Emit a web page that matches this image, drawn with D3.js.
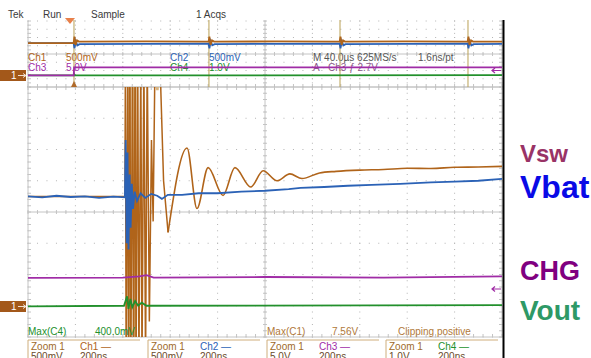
<!DOCTYPE html>
<html>
<head>
<meta charset="utf-8">
<script src="https://cdn.jsdelivr.net/npm/d3@7"></script>
<style>
html, body { margin: 0; padding: 0; background: #fff; }
svg { display: block; font-family: "Liberation Sans", Arial, sans-serif; }
</style>
</head>
<body>
<svg id="scope" width="591" height="358"></svg>
<script>
// ---- values ----
// overview strip: time in us (40 us/div), level in divisions from centre
const ovSpikes = [38.8, 152.7, 263.3, 371.3];
const ovCh1 = [[0,1.33],[38.5,1.33],[39.2,2.1],[40.1,1.1],[41.4,1.65],[43,1.5],[100,1.52],[152.4,1.5],[153.1,2.1],[154,1.1],[155.3,1.65],[157,1.5],[210,1.52],[263,1.5],[263.7,2.1],[264.6,1.1],[265.9,1.65],[267.5,1.5],[320,1.52],[371,1.5],[371.7,2.1],[372.6,1.1],[373.9,1.65],[375.5,1.5],[400,1.5]];
const ovCh2 = [[0,1.33],[38.5,1.33],[39.2,0.7],[40.3,1.55],[41.6,1.05],[43.5,1.2],[152.4,1.25],[153.1,0.7],[154.2,1.55],[155.5,1.05],[157.5,1.2],[263,1.25],[263.7,0.7],[264.8,1.55],[266.1,1.05],[268,1.2],[371,1.25],[371.7,0.7],[372.8,1.55],[374.1,1.05],[376,1.2],[400,1.22]];
const ovCh3 = [[0,-2.6],[38.6,-2.6],[38.9,-1.62],[400,-1.62]];
const ovCh4 = [[0,-2.6],[38.6,-2.6],[39.0,-2.45],[39.6,-2.6],[400,-2.55]];

// zoom window: time in ns (200 ns/div), level in divisions from centre
const zCh1Burst = [[0,0.5],[409,0.5],[411,5],[414,-5],[421,5],[424,-5],[430,5],[434,-5],[441,5],[445,-5],[452,5],[456,-5],[463,5],[468,-5],[476,5],[481,-5],[489,5],[496,-5],[503,5],[512,-3.5],[521,2.3],[528,-0.3],[536,5],[556,5],[572,1.0],[591,-0.65]];
const zCh1Ring = [[591,-0.65],[671,2.05],[713,0.11],[760,1.42],[823,0.53],[873,1.42],[940,0.8],[992,1.32],[1051,1.0],[1105,1.22],[1156,1.07],[1230,1.25],[1300,1.3],[1400,1.34],[1500,1.36],[1600,1.4],[1700,1.39],[1800,1.43],[1900,1.44],[2000,1.46]];
const zCh1Glow = [[428,5],[429,-5],[430,-5],[431,5],[449,5],[450,-5],[452,-5],[453,5],[540,5],[546,3.9],[552,5]];
const zCh2 = [[0,0.5],[60,0.47],[120,0.52],[180,0.48],[240,0.5],[300,0.45],[360,0.49],[409,0.47],[412,2.3],[416,-1.0],[420,1.9],[424,-1.2],[429,1.2],[433,-0.5],[438,0.9],[443,0.1],[450,0.65],[460,0.35],[475,0.6],[495,0.45],[520,0.58],[545,0.52],[565,0.42],[590,0.55],[650,0.55],[720,0.6],[800,0.6],[900,0.65],[1000,0.68],[1100,0.73],[1150,0.77],[1250,0.8],[1350,0.84],[1450,0.87],[1570,0.9],[1700,0.95],[1800,0.97],[1900,1.0],[2000,1.06]];
const zCh3 = [[0,-2.11],[400,-2.1],[470,-2.06],[500,-2.02],[530,-2.1],[1000,-2.08],[1500,-2.1],[2000,-2.06]];
const zCh4 = [[0,-3.02],[405,-3.0],[418,-2.7],[424,-3.1],[432,-2.78],[440,-3.05],[452,-2.85],[465,-3.0],[480,-2.9],[500,-3.0],[2000,-2.98]];

// labels
const headerLabels = ["Tek", "Run", "Sample", "1 Acqs"];
const chLabels = ["Ch1", "Ch2", "Ch3", "Ch4"];
const chScales = ["500mV", "500mV", "5.0V", "1.0V"];
const timebaseText = ["M 40.0\u00b5s 625MS/s", "1.6ns/pt"];
const triggerText = "A \u00b7 Ch3  \u0192  2.7V";
const measureText = ["Max(C4)", "400.0mV", "Max(C1)", "7.56V", "Clipping positive"];
const zoomTime = "200ns";
const signalNames = ["Vsw", "Vbat", "CHG", "Vout"];

// ---- layout ----
const svg = d3.select("#scope");
const X0 = 28, X1 = 502;
const ovTop = 21, ovBot = 87, mTop = 87, mBot = 337;
const C1 = "#b0641a", C2 = "#2b62b6", C3 = "#a02ca6", C4 = "#22902c";
const chColors = [C1, C2, C3, C4];

const xOv = d3.scaleLinear().domain([0, 400]).range([X0, X1]);
const yOv = d3.scaleLinear().domain([-4, 4]).range([ovBot, ovTop]);
const xM = d3.scaleLinear().domain([0, 2000]).range([X0, X1]);
const yM = d3.scaleLinear().domain([-4, 4]).range([mBot, mTop]);

svg.append("rect").attr("width", 591).attr("height", 358).attr("fill", "#fff");

function graticule(x, y, xStep, yStep, yMinor, topDotted) {
  const g = svg.append("g");
  const [xa, xb] = x.domain();
  const xMaj = d3.range(xa, xb + 1e-6, xStep);
  const xMin = d3.range(xa, xb + 1e-6, xStep / 5);
  const yMaj = d3.range(-4, 4.0001, 1);
  const yMin = d3.range(-4, 4.0001, yMinor);
  const dots = [];
  xMaj.forEach(t => yMin.forEach(v => dots.push([x(t), y(v)])));
  yMaj.forEach(v => xMin.forEach(t => dots.push([x(t), y(v)])));
  g.selectAll(".dot").data(dots).join("rect")
    .attr("x", d => d[0] - 0.5).attr("y", d => d[1] - 0.5)
    .attr("width", 1).attr("height", 1).attr("fill", "#b4b4b4");
  const cx = x((xa + xb) / 2), cy = y(0);
  const ln = "#c4c4c4";
  g.append("line").attr("x1", cx).attr("x2", cx).attr("y1", y(4)).attr("y2", y(-4)).attr("stroke", ln);
  g.append("line").attr("x1", x(xa)).attr("x2", x(xb)).attr("y1", cy).attr("y2", cy).attr("stroke", ln);
  // borders
  g.append("line").attr("x1", x(xa)).attr("x2", x(xa)).attr("y1", y(4)).attr("y2", y(-4)).attr("stroke", ln);
  g.append("line").attr("x1", x(xb)).attr("x2", x(xb)).attr("y1", y(4)).attr("y2", y(-4)).attr("stroke", ln);
  g.append("line").attr("x1", x(xa)).attr("x2", x(xb)).attr("y1", y(-4)).attr("y2", y(-4)).attr("stroke", ln);
  if (!topDotted) g.append("line").attr("x1", x(xa)).attr("x2", x(xb)).attr("y1", y(4)).attr("y2", y(4)).attr("stroke", ln);
  // ticks
  const tk = [];
  xMin.forEach(t => {
    tk.push([x(t), cy - 2, x(t), cy + 2]);
    tk.push([x(t), y(-4), x(t), y(-4) - 3]);
    if (!topDotted) tk.push([x(t), y(4), x(t), y(4) + 3]);
  });
  yMin.forEach(v => {
    tk.push([cx - 2, y(v), cx + 2, y(v)]);
    tk.push([x(xa), y(v), x(xa) + 3, y(v)]);
    tk.push([x(xb), y(v), x(xb) - 3, y(v)]);
  });
  g.selectAll(".tk").data(tk).join("line")
    .attr("x1", d => d[0]).attr("y1", d => d[1]).attr("x2", d => d[2]).attr("y2", d => d[3])
    .attr("stroke", ln);
}

graticule(xOv, yOv, 40, 1, 0.5, true);
graticule(xM, yM, 200, 1, 0.2, false);

// clip paths
const defs = svg.append("defs");
defs.append("clipPath").attr("id", "clipOv").append("rect")
  .attr("x", X0).attr("y", ovTop - 3).attr("width", X1 - X0).attr("height", ovBot - ovTop + 3);
defs.append("clipPath").attr("id", "clipM").append("rect")
  .attr("x", X0).attr("y", mTop).attr("width", X1 - X0).attr("height", mBot - mTop);

// header
const headerX = [8, 43, 91, 196];
svg.selectAll(".hdr").data(headerLabels).join("text")
  .attr("x", (d, i) => headerX[i]).attr("y", 18)
  .attr("font-size", 10).attr("fill", "#3a3a3a").text(d => d);

// overview readouts (drawn under the traces)
const rdX = [[28, 66], [170, 209], [28, 66], [170, 209]];
const rdY = [61, 61, 71, 71];
chLabels.forEach((c, i) => {
  svg.append("text").attr("x", rdX[i][0]).attr("y", rdY[i]).attr("font-size", 10).attr("fill", chColors[i]).text(c);
  svg.append("text").attr("x", rdX[i][1]).attr("y", rdY[i]).attr("font-size", 10).attr("fill", chColors[i]).text(chScales[i]);
});
svg.append("text").attr("x", 313).attr("y", 61).attr("font-size", 10).attr("fill", "#555").text(timebaseText[0]);
svg.append("text").attr("x", 418).attr("y", 61).attr("font-size", 10).attr("fill", "#555").text(timebaseText[1]);
svg.append("text").attr("x", 313).attr("y", 71).attr("font-size", 10).attr("fill", "#8a5a8a").text(triggerText);

// overview traces
const lineOv = d3.line().x(d => xOv(d[0])).y(d => yOv(d[1]));
const gOv = svg.append("g").attr("clip-path", "url(#clipOv)");
gOv.selectAll(".sp").data(ovSpikes).join("line")
  .attr("x1", d => xOv(d)).attr("x2", d => xOv(d)).attr("y1", ovTop - 1).attr("y2", ovBot)
  .attr("stroke", "#b9a055").attr("stroke-width", 1);
[[ovCh4, C4], [ovCh3, C3], [ovCh2, C2], [ovCh1, C1]].forEach(([d, c]) => {
  gOv.append("path").datum(d).attr("d", lineOv).attr("fill", "none")
    .attr("stroke", c).attr("stroke-width", 1.8);
});

// trigger markers on overview
svg.append("path").attr("d", "M65,18 L75,18 L70,24 Z").attr("fill", "#e8804a");
svg.append("path").attr("d", "M71,87 L77,87 L74,81 Z").attr("fill", "#b06a2a");

// main traces
const lineM = d3.line().x(d => xM(d[0])).y(d => yM(d[1]));
const curveM = d3.line().x(d => xM(d[0])).y(d => yM(d[1])).curve(d3.curveMonotoneX);
const gM = svg.append("g").attr("clip-path", "url(#clipM)");
gM.append("path").datum(zCh1Glow).attr("d", lineM).attr("fill", "none")
  .attr("stroke", "#d8b47e").attr("stroke-width", 2.6);
gM.append("path").datum(zCh1Burst).attr("d", lineM).attr("fill", "none")
  .attr("stroke", C1).attr("stroke-width", 1.5);
gM.append("path").datum(zCh1Ring).attr("d", curveM).attr("fill", "none")
  .attr("stroke", C1).attr("stroke-width", 1.6);
gM.append("path").datum(zCh2).attr("d", lineM).attr("fill", "none")
  .attr("stroke", C2).attr("stroke-width", 1.8);
gM.append("path").datum(zCh3).attr("d", lineM).attr("fill", "none")
  .attr("stroke", C3).attr("stroke-width", 1.8);
gM.append("path").datum(zCh4).attr("d", lineM).attr("fill", "none")
  .attr("stroke", C4).attr("stroke-width", 1.8);

// ground / level markers
[[70, 81], [301, 312]].forEach(([t, b]) => {
  svg.append("rect").attr("x", 0).attr("y", t).attr("width", 26).attr("height", b - t).attr("fill", "#a3581a");
  svg.append("text").attr("x", 11).attr("y", b - 2).attr("font-size", 10).attr("fill", "#fff").text("1");
  svg.append("path").attr("d", `M18,${(t + b) / 2} L26,${(t + b) / 2} M23,${(t + b) / 2 - 2} L26,${(t + b) / 2} L23,${(t + b) / 2 + 2}`)
    .attr("stroke", "#f0e0d0").attr("fill", "none");
});
[70.5, 289].forEach(yy => {
  svg.append("path").attr("d", `M492,${yy} L501,${yy} M495,${yy - 2.5} L492,${yy} L495,${yy + 2.5}`)
    .attr("stroke", C3).attr("stroke-width", 1.2).attr("fill", "none");
});

// measurement line
const msX = [28, 95, 267, 332, 398];
const msC = [C4, C4, "#b0783a", "#b0783a", "#b07a3a"];
measureText.forEach((t, i) => {
  svg.append("text").attr("x", msX[i]).attr("y", 335).attr("font-size", 10).attr("fill", msC[i]).text(t);
});

// zoom boxes (second row is cut by the bottom edge, as on the screen grab)
const boxX = [28, 148, 267, 386];
boxX.forEach((bx, i) => {
  svg.append("path").attr("d", `M${bx},358 L${bx},340 L${bx + 112},340`)
    .attr("stroke", "#cfae7c").attr("fill", "none");
  svg.append("text").attr("x", bx + 3).attr("y", 350).attr("font-size", 10).attr("fill", "#a06a2a").text("Zoom 1");
  svg.append("text").attr("x", bx + 52).attr("y", 350).attr("font-size", 10).attr("fill", chColors[i]).text(chLabels[i] + " \u2014");
  svg.append("text").attr("x", bx + 3).attr("y", 360).attr("font-size", 10).attr("fill", "#6a4a2a").text(chScales[i]);
  svg.append("text").attr("x", bx + 52).attr("y", 360).attr("font-size", 10).attr("fill", "#6a4a2a").text(zoomTime);
});

// separator
svg.append("line").attr("x1", 503.5).attr("x2", 503.5).attr("y1", 20).attr("y2", 358)
  .attr("stroke", "#000").attr("stroke-width", 2);

// signal names
const nameY = [162, 198, 280, 320];
const nameSize = [24, 32, 27, 28];
const nameColor = ["#993366", "#0a0ae6", "#800080", "#2e9966"];
signalNames.forEach((n, i) => {
  svg.append("text").attr("x", 520).attr("y", nameY[i])
    .attr("font-size", nameSize[i]).attr("font-weight", "bold")
    .attr("fill", nameColor[i]).text(n);
});
</script>
</body>
</html>
